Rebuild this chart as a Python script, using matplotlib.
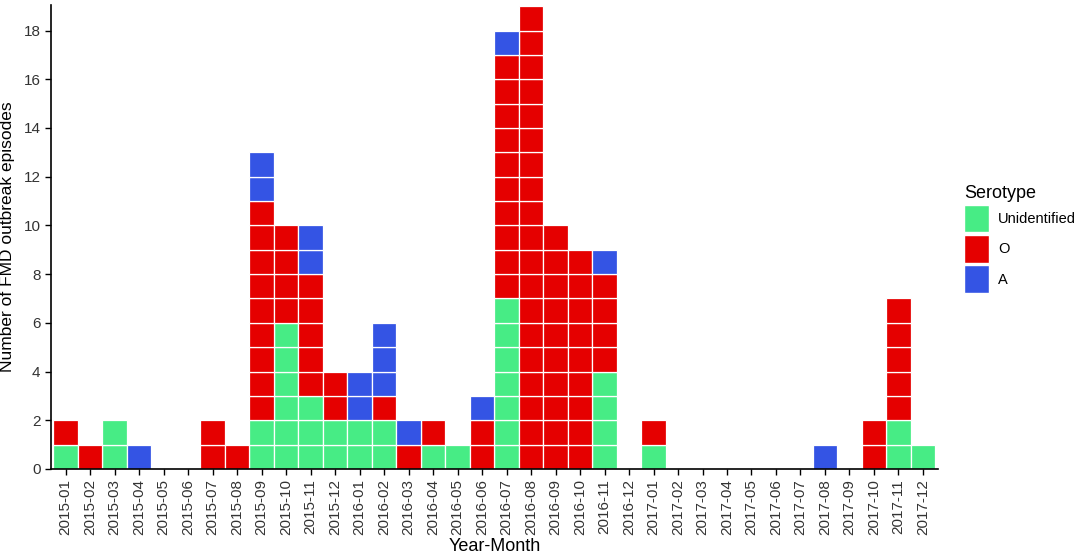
import matplotlib
matplotlib.use("Agg")
import matplotlib.pyplot as plt
from matplotlib.patches import Patch

plt.rcParams['font.family'] = ['Liberation Sans', 'DejaVu Sans']

months = ["2015-01", "2015-02", "2015-03", "2015-04", "2015-05", "2015-06",
          "2015-07", "2015-08", "2015-09", "2015-10", "2015-11", "2015-12",
          "2016-01", "2016-02", "2016-03", "2016-04", "2016-05", "2016-06",
          "2016-07", "2016-08", "2016-09", "2016-10", "2016-11", "2016-12",
          "2017-01", "2017-02", "2017-03", "2017-04", "2017-05", "2017-06",
          "2017-07", "2017-08", "2017-09", "2017-10", "2017-11", "2017-12"]

unidentified = [1, 0, 2, 0, 0, 0, 0, 0, 2, 6, 3, 2,
                2, 2, 0, 1, 1, 0, 7, 0, 0, 0, 4, 0,
                1, 0, 0, 0, 0, 0, 0, 0, 0, 0, 2, 1]
serotype_o = [1, 1, 0, 0, 0, 0, 2, 1, 9, 4, 5, 2,
              0, 1, 1, 1, 0, 2, 10, 19, 10, 9, 4, 0,
              1, 0, 0, 0, 0, 0, 0, 0, 0, 2, 5, 0]
serotype_a = [0, 0, 0, 1, 0, 0, 0, 0, 2, 0, 2, 0,
              2, 3, 1, 0, 0, 1, 1, 0, 0, 0, 1, 0,
              0, 0, 0, 0, 0, 0, 0, 1, 0, 0, 0, 0]

series = [("Unidentified", unidentified, "#47EC85"),
          ("O", serotype_o, "#E50000"),
          ("A", serotype_a, "#3454E4")]

fig = plt.figure(figsize=(10.84, 5.55), dpi=100)
ax = fig.add_axes([0.047, 0.155, 0.818, 0.836])

# every episode is one cell, stacked per month
bottoms = [0] * len(months)
for name, vals, color in series:
    for i, v in enumerate(vals):
        for k in range(v):
            ax.bar(i, 1, bottom=bottoms[i], width=1.0, color=color,
                   edgecolor="white", linewidth=0.9)
            bottoms[i] += 1

ax.set_xlim(-0.6, len(months) - 0.4)
ax.set_ylim(0, 19.05)
ax.set_xticks(range(len(months)))
ax.set_xticklabels(months, rotation=90)
ax.set_yticks(range(0, 19, 2))
ax.tick_params(axis="both", labelsize=11, colors="black", labelcolor="#333333",
               length=4, width=1)
for side in ["top", "right"]:
    ax.spines[side].set_visible(False)
for side in ["left", "bottom"]:
    ax.spines[side].set_linewidth(1.2)

ax.set_xlabel("Year-Month", fontsize=13, labelpad=2)
ax.set_ylabel("Number of FMD outbreak episodes", fontsize=12.5, labelpad=6)

handles = [Patch(facecolor=c, edgecolor="white", label=n) for n, v, c in series]
leg = fig.legend(handles=handles, title="Serotype", loc="upper left",
                 bbox_to_anchor=(0.877, 0.69), frameon=False, fontsize=10.5,
                 title_fontsize=13, handlelength=1.75, handleheight=2.5,
                 handletextpad=0.6, labelspacing=0.2)
leg._legend_box.align = "left"

plt.savefig("out.png", dpi=100)
